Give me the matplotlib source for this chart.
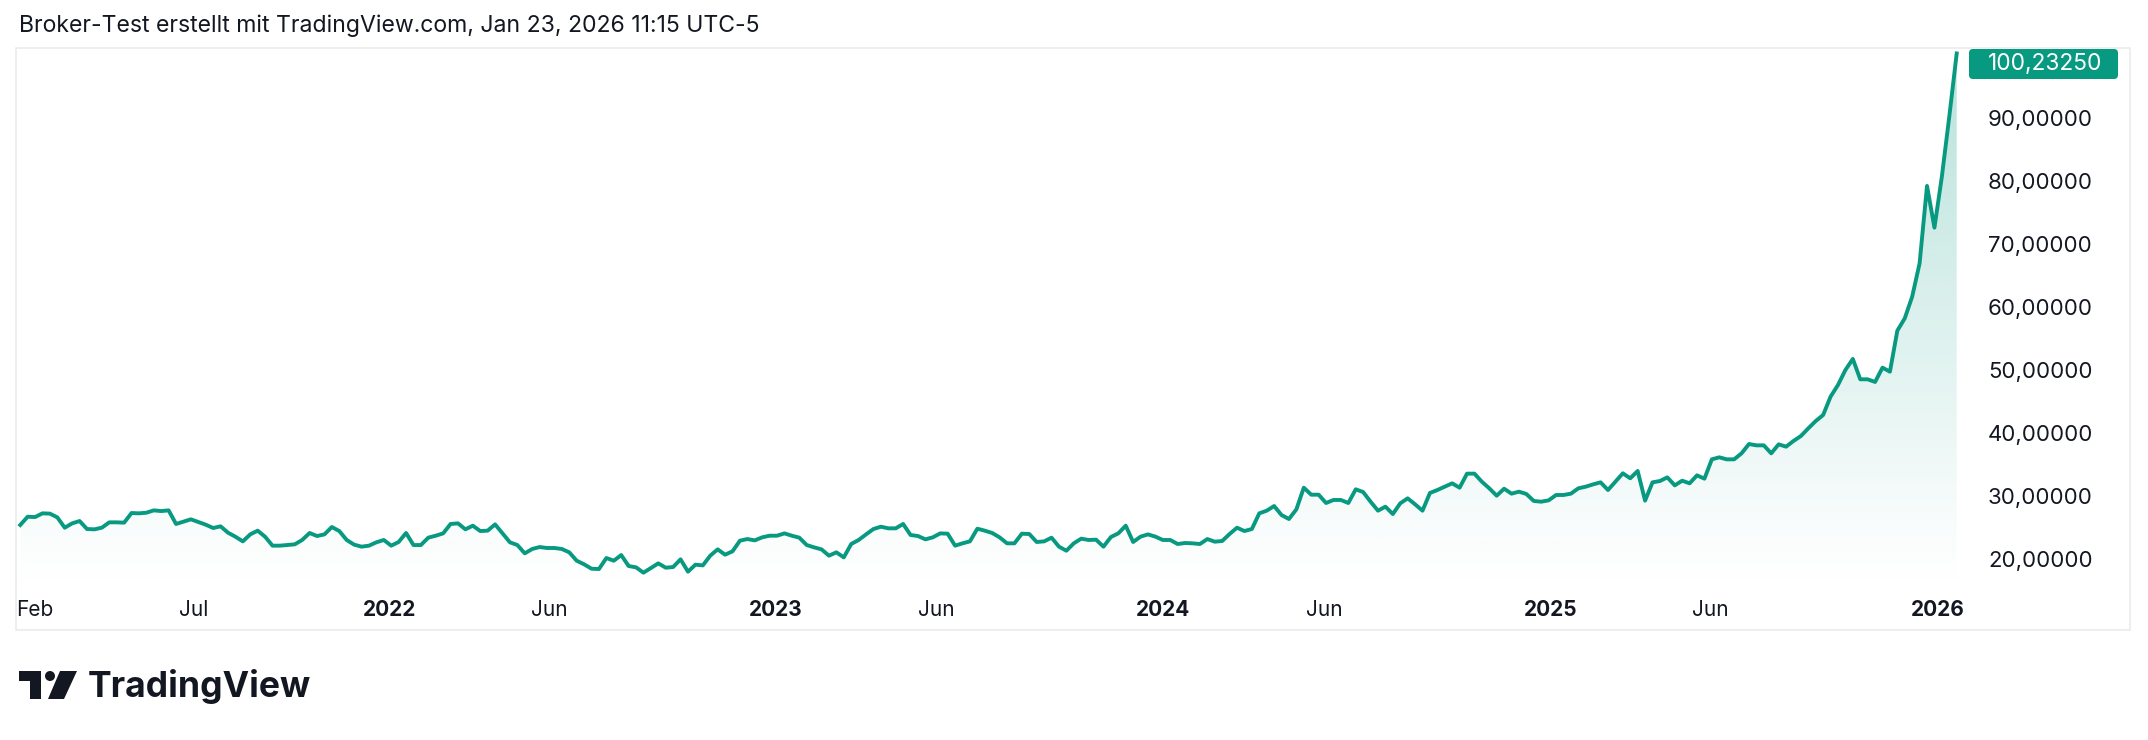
import numpy as np
import pandas as pd
import matplotlib
matplotlib.use("Agg")
import matplotlib.pyplot as plt
import matplotlib.dates as mdates
from matplotlib.patches import Rectangle, FancyBboxPatch, Circle, Polygon
from matplotlib.colors import LinearSegmentedColormap

plt.rcParams['font.family'] = ['Inter', 'DejaVu Sans']

# weekly closes, Jan 2021 .. Jan 2026
close = [
    25.40, 26.71, 26.66, 27.25, 27.20, 26.61, 24.97, 25.66, 26.03, 24.76,
    24.71, 24.97, 25.82, 25.82, 25.77, 27.30, 27.25, 27.35, 27.72, 27.61,
    27.72, 25.56, 25.93, 26.30, 25.87, 25.45, 24.92, 25.19, 24.18, 23.54,
    22.80, 23.91, 24.50, 23.54, 22.12, 22.12, 22.22, 22.33, 23.02, 24.13,
    23.65, 23.91, 25.08, 24.44, 23.02, 22.28, 21.96, 22.12, 22.65, 23.02,
    22.12, 22.70, 24.13,
    22.22, 22.22, 23.39, 23.70, 24.07, 25.56, 25.66, 24.71, 25.29, 24.44,
    24.50, 25.50, 24.07, 22.65, 22.22, 20.90, 21.59, 21.90, 21.75, 21.75,
    21.59, 21.06, 19.73, 19.16, 18.46, 18.41, 20.16, 19.73, 20.63, 18.89,
    18.68, 17.83, 18.57, 19.31, 18.62, 18.73, 19.95, 17.99, 19.10, 18.99,
    20.53, 21.53, 20.69, 21.22, 22.91, 23.17, 22.96, 23.44, 23.70, 23.70,
    24.07, 23.70, 23.39,
    22.22, 21.85, 21.53, 20.53, 21.06, 20.26, 22.38, 23.02, 23.91, 24.76,
    25.13, 24.87, 24.87, 25.56, 23.81, 23.65, 23.12, 23.44, 24.07, 24.02,
    22.12, 22.49, 22.80, 24.81, 24.50, 24.13, 23.44, 22.49, 22.49, 24.02,
    23.97, 22.70, 22.80, 23.39, 21.96, 21.32, 22.49, 23.23, 23.02, 23.07,
    21.96, 23.49, 24.07, 25.29, 22.70, 23.55, 23.91, 23.55, 23.02, 23.02,
    22.38, 22.54,
    22.49, 22.38, 23.17, 22.75, 22.86, 23.97, 24.97, 24.44, 24.76, 27.25,
    27.67, 28.41, 26.98, 26.35, 27.88, 31.32, 30.21, 30.21, 28.89, 29.37,
    29.37, 28.89, 31.06, 30.63, 29.10, 27.67, 28.31, 27.14, 28.84, 29.63,
    28.68, 27.67, 30.48, 30.95, 31.48, 32.01, 31.32, 33.55, 33.55, 32.27,
    31.22, 30.05, 31.16, 30.37, 30.69, 30.32, 29.21, 29.10, 29.31, 30.16,
    30.16, 30.37, 31.22,
    31.48, 31.85, 32.17, 30.95, 32.27, 33.60, 32.81, 33.97, 29.26, 32.17,
    32.38, 32.96, 31.69, 32.43, 32.01, 33.28, 32.75, 35.82, 36.14, 35.82,
    35.82, 36.77, 38.25, 38.04, 38.04, 36.77, 38.20, 37.83, 38.73, 39.52,
    40.74, 41.90, 42.86, 45.77, 47.62, 50.00, 51.75, 48.52, 48.52, 48.10,
    50.37, 49.73, 56.24, 58.20, 61.64, 66.93, 79.21, 72.59, 80.69, 90.21,
    100.2325,
]
dates = pd.date_range(end="2026-01-19", periods=len(close), freq="W-MON")

tick_dates = pd.to_datetime(["2021-02-01", "2021-07-01", "2022-01-01", "2022-06-01",
                             "2023-01-01", "2023-06-01", "2024-01-01", "2024-06-01",
                             "2025-01-01", "2025-06-01", "2026-01-01"])
tick_labels = ["Feb", "Jul", "2022", "Jun", "2023", "Jun", "2024", "Jun",
               "2025", "Jun", "2026"]
yticks = [20, 30, 40, 50, 60, 70, 80, 90]

title = "Broker-Test erstellt mit TradingView.com, Jan 23, 2026 11:15 UTC-5"
GREEN = "#089981"
TXT = "#131722"

W, H = 2148, 740
fig = plt.figure(figsize=(W / 100, H / 100), dpi=100)


def rect(x0, y0, x1, y1):
    return [x0 / W, 1 - y1 / H, (x1 - x0) / W, (y1 - y0) / H]


# background layer in pixel coords: frame, title, logo
bg = fig.add_axes([0, 0, 1, 1])
bg.set_xlim(0, W)
bg.set_ylim(H, 0)
bg.axis("off")
bg.add_patch(Rectangle((16, 48), 2114, 582, fill=False, ec="#ebebeb", lw=1.2))
bg.text(19, 26, title, fontsize=16.6, color=TXT, va="center", ha="left")

# TradingView logo
bg.add_patch(Rectangle((19, 671), 22, 10, color=TXT, lw=0))
bg.add_patch(Rectangle((30, 671), 11, 28, color=TXT, lw=0))
bg.add_patch(Circle((50, 676), 5, color=TXT, lw=0))
bg.add_patch(Polygon([(60, 671), (77, 671), (64, 699), (48, 699)], closed=True, color=TXT, lw=0))
bg.text(88, 686, "TradingView", fontsize=25.6, fontweight="bold", color=TXT,
        va="center", ha="left")

# chart
ax = fig.add_axes(rect(16, 48, 1962, 588))
ax.set_facecolor("none")
xlim = (dates[0] - pd.Timedelta(days=4), dates[-1] + pd.Timedelta(days=5))
ylim = (15.4, 101.1)

ax.plot(dates, close, color=GREEN, lw=2.8, zorder=3, solid_joinstyle="round")

g = (8 / 255, 153 / 255, 129 / 255)
cmap = LinearSegmentedColormap.from_list(
    "fade", [(0.0, g + (0.0,)), (0.12, g + (0.03,)), (1.0, g + (0.29,))])
x0, x1 = mdates.date2num(xlim[0]), mdates.date2num(xlim[1])
im = ax.imshow(np.linspace(0, 1, 256).reshape(-1, 1), cmap=cmap, aspect="auto",
               origin="lower", extent=[x0, x1, ylim[0], ylim[1]], zorder=1)
poly = ax.fill_between(dates, close, ylim[0], color="none", lw=0)
im.set_clip_path(poly.get_paths()[0], transform=ax.transData)

ax.set_xlim(xlim)
ax.set_ylim(ylim)
for s in ax.spines.values():
    s.set_visible(False)

ax.yaxis.tick_right()
ax.set_yticks(yticks)
ax.set_yticklabels([f"{v:.5f}".replace(".", ",") for v in yticks])
ax.tick_params(axis="y", length=0, pad=18.7, labelsize=16, labelcolor=TXT)

ax.set_xticks(tick_dates)
ax.set_xticklabels(tick_labels)
ax.tick_params(axis="x", length=0, pad=9, labelsize=15, labelcolor=TXT)
for lbl in ax.get_xticklabels():
    if lbl.get_text().isdigit():
        lbl.set_fontweight("bold")

# last price label, pinned to top of the pane
fig.canvas.draw()
_, ypix = ax.transData.transform((x1, close[-1]))
yc = max(H - ypix, 64)
bg.add_patch(FancyBboxPatch((1969, yc - 15), 149, 30,
                            boxstyle="round,pad=0,rounding_size=4", fc=GREEN, ec="none"))
bg.text(1988, yc, f"{close[-1]:.5f}".replace(".", ","), fontsize=16.4, color="white",
        va="center", ha="left")

fig.savefig("out.png", dpi=100)
